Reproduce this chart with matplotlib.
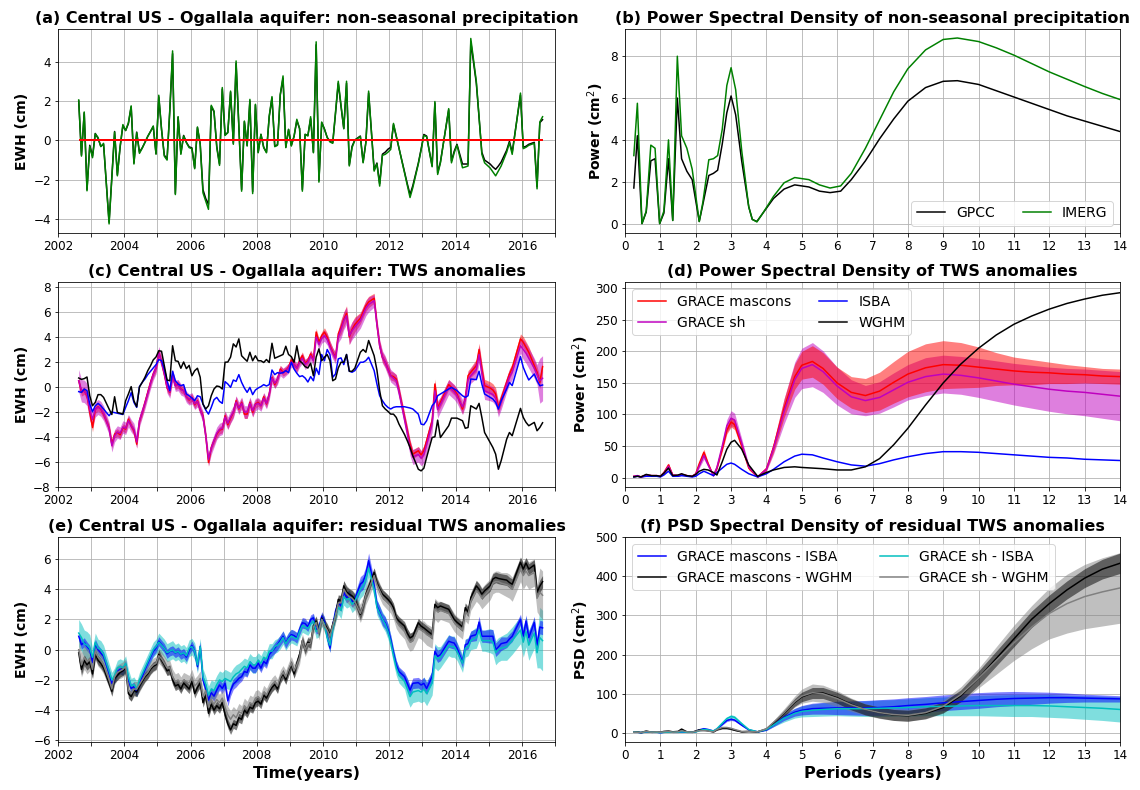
import numpy as np
import matplotlib
matplotlib.use('Agg')
import matplotlib.pyplot as plt

# ---------------- time axis (GRACE months, 0 = Jan 2002) ----------------
months = [7, 8, 9, 10, 11, 12, 13, 14, 15, 16,
          18, 19, 20, 21, 22, 23, 24, 25, 26, 27,
          28, 29, 30, 31, 32, 33, 34, 35, 36, 37,
          38, 39, 40, 41, 42, 43, 44, 45, 46, 47,
          48, 49, 50, 51, 52, 53, 54, 55, 56, 57,
          58, 59, 60, 61, 62, 63, 64, 65, 66, 67,
          68, 69, 70, 71, 72, 73, 74, 75, 76, 77,
          78, 79, 80, 81, 82, 83, 84, 85, 86, 87,
          88, 89, 90, 91, 92, 93, 94, 95, 96, 97,
          98, 99, 100, 101, 102, 103, 104, 105, 106, 107,
          109, 110, 111, 112, 114, 115, 116, 117, 118, 119,
          120, 121, 122, 123, 125, 126, 127, 128, 130, 131,
          132, 133, 135, 136, 137, 138, 141, 142, 143, 144,
          146, 147, 148, 149, 151, 152, 153, 154, 156, 157,
          158, 159, 160, 162, 163, 164, 167, 168, 169, 170,
          172, 173, 174, 175]

# ---------------- (a) non-seasonal precipitation ----------------
imerg = [2.05, -0.8, 1.44, -2.56, -0.3, -0.88, 0.33, 0.15, -0.32, -0.15,
         -4.24, -1.9, 0.42, -1.8, -0.3, 0.8, 0.5, 0.9, 1.75, -1.2,
         0.39, -0.66, -0.4, -0.1, 0.2, 0.45, 0.73, -0.7, 2.29, 0.56,
         -0.8, -1.0, 1.6, 4.54, -2.75, 1.2, -0.71, 0.22, -0.12, -0.37,
         -0.42, -1.44, 0.68, -0.2, -2.66, -3.08, -3.5, 1.78, 1.49, -0.37,
         -1.27, 2.68, 0.25, 0.39, 2.5, -0.2, 4.03, 0.73, -2.58, 0.98,
         -0.29, 2.08, -2.7, 1.83, -0.63, 0.31, -0.37, -0.63, 1.24, 2.22,
         -0.32, -0.25, 2.34, 3.27, -0.37, 0.56, -0.29, 0.22, 1.07, 0.59,
         -2.58, 0.31, 0.22, 1.2, -0.63, 5.0, -2.12, 0.93, 0.56, 0.14,
         -0.08, -0.15, 1.4, 3.0, 1.78, 0.59, 3.0, -1.3, -0.37, 0.0,
         0.19, -1.14, -0.12, 2.5, -1.56, -1.19, -2.32, -0.76, -0.71, -0.6,
         -0.46, 0.86, 0.23, -0.4, -1.65, -2.27, -2.9, -2.4, -1.2, -0.5,
         0.25, 0.19, -1.34, 1.97, -1.73, -1.14, 1.61, -1.14, -0.63, -0.24,
         -1.39, -1.35, -1.3, 5.17, 3.0, 1.2, -0.7, -1.14, -1.4, -1.6,
         -1.8, -1.55, -1.3, -0.6, -0.12, -0.71, 2.4, -0.42, -0.35, -0.25,
         -0.15, -2.46, 0.93, 1.2]
gpcc = [2.0, -0.75, 1.4, -2.5, -0.25, -0.8, 0.35, 0.1, -0.3, -0.2,
        -4.15, -1.85, 0.45, -1.75, -0.35, 0.75, 0.5, 0.85, 1.7, -1.15,
        0.42, -0.6, -0.38, -0.1, 0.2, 0.45, 0.7, -0.68, 2.2, 0.55,
        -0.75, -0.95, 1.5, 4.4, -2.7, 1.18, -0.65, 0.25, -0.1, -0.33,
        -0.38, -1.4, 0.65, -0.18, -2.5, -2.95, -3.25, 1.72, 1.45, -0.3,
        -1.2, 2.6, 0.28, 0.4, 2.45, -0.15, 3.9, 0.7, -2.5, 0.95,
        -0.25, 2.0, -2.6, 1.8, -0.6, 0.3, -0.35, -0.6, 1.2, 2.15,
        -0.3, -0.22, 2.3, 3.15, -0.35, 0.55, -0.25, 0.2, 1.0, 0.6,
        -2.5, 0.3, 0.25, 1.1, -0.6, 4.85, -2.05, 0.9, 0.58, 0.15,
        -0.05, -0.12, 1.35, 2.9, 1.72, 0.6, 2.9, -1.25, -0.3, 0.02,
        0.22, -1.1, -0.1, 2.4, -1.5, -1.15, -2.2, -0.7, -0.6, -0.45,
        -0.35, 0.8, 0.2, -0.4, -1.6, -2.2, -2.75, -2.3, -1.15, -0.45,
        0.3, 0.22, -1.3, 1.9, -1.65, -1.1, 1.55, -1.05, -0.55, -0.2,
        -1.2, -1.2, -1.2, 5.0, 2.9, 1.15, -0.6, -1.0, -1.2, -1.35,
        -1.47, -1.3, -1.1, -0.5, -0.05, -0.6, 2.3, -0.35, -0.3, -0.2,
        -0.1, -2.35, 0.9, 1.05]
precip_ref = 0.0

# ---------------- (c) TWS anomalies ----------------
tws_mascons = [0.5, -0.43, -0.29, -0.7, -2.03, -3.24, -1.76, -1.58, -1.76, -2.17,
               -3.24, -4.57, -3.77, -3.64, -3.82, -3.24, -3.37, -2.57, -3.1, -3.5,
               -4.57, -2.7, -2.03, -1.23, -0.43, 0.37, 1.04, 1.52, 2.78, 1.98,
               1.04, -0.08, -0.43, 0.99, 0.11, 0.19, -0.16, -0.29, -0.78, -1.04,
               -0.83, -1.42, -1.1, -1.84, -2.3, -3.9, -6.04, -4.84, -4.3, -3.77,
               -3.45, -3.37, -2.3, -3.02, -2.49, -2.03, -1.1, -1.76, -1.23, -2.17,
               -2.17, -1.23, -2.03, -1.36, -1.23, -1.5, -0.78, -1.36, -0.56, 0.78,
               0.19, 0.64, 1.44, 1.18, 1.31, 1.58, 2.17, 1.79, 1.52, 2.11,
               2.51, 1.9, 2.11, 2.65, 2.2, 4.4, 3.58, 4.12, 4.39, 3.98,
               3.32, 2.78, 2.38, 4.25, 4.79, 5.4, 5.9, 4.0, 4.6, 5.0,
               5.5, 6.0, 6.5, 6.8, 7.1, 5.0, 3.3, 2.38, 1.98, 1.44,
               0.91, 0.83, 0.64, -0.29, -2.43, -3.5, -4.57, -5.37, -5.1, -5.43,
               -5.1, -4.3, -2.7, 0.24, -1.63, -1.23, 0.19, -0.03, -0.24, -0.56,
               -1.76, -0.9, 0.91, 1.18, 1.71, 3.0, 1.44, 0.11, -0.08, -0.24,
               -0.56, -1.63, -0.96, 0.37, 1.04, 1.52, 3.85, 3.58, 3.18, 2.78,
               1.71, 1.18, 0.37, 1.63]
tws_sh = [0.5, -0.3, -0.35, -0.6, -1.8, -2.6, -1.8, -1.6, -1.75, -2.1,
          -3.3, -4.7, -3.9, -3.6, -3.7, -3.2, -3.3, -2.7, -3.1, -3.4,
          -4.4, -2.7, -2.0, -1.3, -0.5, 0.3, 1.0, 1.5, 2.75, 2.0,
          1.1, 0.0, -0.4, 0.9, 0.1, 0.15, -0.2, -0.3, -0.8, -1.0,
          -0.9, -1.35, -1.15, -1.8, -2.4, -3.9, -5.8, -4.9, -4.3, -3.7,
          -3.4, -3.3, -2.4, -2.9, -2.4, -2.0, -1.2, -1.7, -1.3, -2.0,
          -2.0, -1.3, -1.9, -1.4, -1.3, -1.5, -0.9, -1.3, -0.6, 0.7,
          0.3, 0.6, 1.3, 1.1, 1.3, 1.5, 2.0, 1.8, 1.5, 2.0,
          2.3, 1.8, 2.0, 2.5, 2.1, 4.0, 3.4, 3.9, 4.1, 3.8,
          3.2, 2.7, 2.3, 4.0, 4.6, 5.3, 5.7, 4.1, 4.5, 4.8,
          5.3, 5.8, 6.3, 6.6, 6.9, 5.0, 3.3, 2.4, 2.0, 1.4,
          0.9, 0.7, 0.5, -0.4, -2.6, -3.7, -4.9, -5.6, -5.4, -5.7,
          -5.4, -4.6, -2.9, -0.3, -1.8, -1.4, 0.0, -0.2, -0.4, -0.7,
          -1.6, -1.0, 0.6, 0.9, 1.4, 2.6, 1.1, -0.3, -0.5, -0.6,
          -0.9, -1.8, -1.2, 0.2, 0.8, 1.2, 3.3, 3.0, 2.7, 2.3,
          1.5, 1.0, 0.5, 0.7]
tws_isba = [-0.37, -0.43, -0.16, -0.29, -1.36, -1.98, -1.5, -1.31, -1.5, -1.76,
            -2.3, -2.0, -2.05, -2.1, -2.15, -2.2, -1.63, -1.1, -0.45, -1.23,
            -1.63, 0.03, 0.37, 0.64, 0.99, 1.26, 1.52, 1.79, 2.19, 2.11,
            1.44, 0.5, -0.29, 1.26, 0.5, 0.24, 0.1, 0.19, -0.56, -0.7,
            -0.88, -1.1, -0.7, -0.78, -1.36, -1.84, -2.17, -1.63, -1.02, -0.83,
            -1.15, -1.31, 0.43, 0.24, -0.03, 0.56, 0.45, 0.99, 0.37, -0.08,
            -0.43, -0.03, -0.61, -0.24, -0.08, 0.03, 0.19, 0.08, 0.19, 1.36,
            0.99, 1.15, 1.1, 1.15, 1.31, 1.15, 1.98, 1.44, 1.1, 0.83,
            0.9, 0.72, 0.4, 0.83, 0.5, 1.5, 1.0, 2.6, 2.1, 3.0,
            2.6, 0.78, 1.04, 2.25, 2.33, 1.79, 2.6, 1.26, 1.18, 1.31,
            1.98, 1.98, 2.11, 2.38, 1.31, 0.24, -0.7, -1.1, -1.42, -1.63,
            -1.76, -1.63, -1.58, -1.58, -1.58, -1.63, -1.68, -1.76, -2.17, -2.97,
            -3.02, -2.7, -1.5, -1.23, -0.7, -0.56, -0.16, -0.03, -0.16, -0.29,
            -0.7, -0.83, -0.7, 0.64, 0.59, 1.26, 0.24, -0.56, -0.83, -0.96,
            -1.23, -1.76, -1.1, -0.16, 0.37, 0.11, 2.43, 1.58, 1.04, 0.56,
            1.04, 0.5, 0.1, 0.16]
tws_wghm = [0.72, 0.61, 0.67, 0.8, -0.7, -1.5, -1.23, -0.61, -0.61, -0.83,
            -1.76, -2.2, -0.78, -2.03, -2.1, -2.17, -1.1, -0.56, 0.03, -1.1,
            -1.58, 0.0, 0.37, 0.78, 1.3, 1.7, 2.17, 2.4, 2.9, 2.86,
            1.7, 0.56, 0.5, 3.3, 2.1, 2.05, 1.5, 2.0, 1.47, 1.73,
            0.9, 1.3, 1.5, 0.78, -1.36, -1.76, -1.5, -0.7, -0.16, 0.08,
            0.03, -0.16, 1.98, 2.0, 2.39, 3.45, 3.2, 3.85, 2.5, 2.27,
            2.06, 2.78, 2.1, 2.5, 2.1, 2.1, 1.96, 2.2, 1.96, 3.5,
            2.3, 2.4, 2.5, 2.6, 3.26, 2.6, 2.43, 1.98, 3.3, 2.1,
            1.9, 1.63, 1.52, 1.9, 0.9, 2.4, 3.05, 2.1, 2.38, 2.6,
            2.1, 0.5, 0.64, 1.52, 1.98, 1.98, 2.6, 1.26, 1.26, 1.5,
            2.78, 3.0, 2.78, 3.72, 2.5, 1.36, -0.3, -1.5, -1.76, -1.95,
            -2.17, -2.17, -2.43, -2.97, -3.8, -4.3, -4.84, -5.5, -6.58, -6.71,
            -6.5, -5.64, -4.04, -3.98, -2.65, -4.04, -3.1, -2.49, -2.49, -2.49,
            -2.7, -3.3, -3.24, -1.5, -1.76, -1.31, -2.43, -3.64, -4.44, -4.84,
            -5.37, -6.58, -5.9, -4.17, -3.64, -3.9, -1.71, -2.43, -2.83, -3.1,
            -2.83, -3.5, -3.24, -2.86]
# uncertainty (1 sigma) per half-year, 2002a ... 2016b
sig_c_mascons = [0.3, 0.3, 0.35, 0.3, 0.3, 0.3, 0.3, 0.3, 0.3, 0.3, 0.35, 0.35, 0.3, 0.3, 0.3,
                 0.3, 0.35, 0.6, 0.45, 0.4, 0.35, 0.35, 0.4, 0.4, 0.4, 0.5, 0.5, 0.4, 0.45, 0.5]
sig_c_sh = [0.6, 0.9, 0.6, 0.5, 0.5, 0.45, 0.5, 0.45, 0.45, 0.5, 0.5, 0.5, 0.45, 0.4, 0.4,
            0.4, 0.45, 0.7, 0.6, 0.5, 0.5, 0.6, 0.7, 0.6, 0.6, 0.7, 0.6, 0.6, 0.8, 1.8]

# ---------------- (e) residual TWS anomalies ----------------
res_m_isba = [0.89, 0.33, 0.49, 0.22, 0.0, -0.84, 0.4, 0.0, -0.22, -0.44,
              -1.56, -2.22, -1.89, -1.44, -1.29, -1.38, -1.0, -2.0, -2.56, -2.44,
              -2.78, -2.22, -1.78, -1.33, -0.89, -0.49, -0.11, 0.11, 0.56, 0.33,
              0.11, -0.27, -0.11, -0.04, -0.22, -0.11, -0.33, -0.22, -0.49, -0.04,
              0.27, -0.11, -1.11, 0.22, -2.0, -2.56, -3.33, -2.84, -3.07, -2.67,
              -2.33, -2.56, -2.22, -3.38, -2.71, -2.27, -2.11, -1.89, -1.78, -1.44,
              -1.51, -1.0, -1.22, -1.22, -0.89, -1.22, -0.78, -0.93, -0.33, -0.11,
              0.11, 0.33, 0.62, 0.89, 0.44, 0.78, 1.0, 0.93, 0.78, 1.33,
              1.78, 1.73, 1.51, 2.0, 2.11, 1.33, 1.44, 2.22, 1.89, 0.89,
              0.11, 1.6, 2.56, 3.11, 2.89, 3.8, 3.44, 3.6, 3.16, 3.33,
              4.33, 4.49, 5.0, 5.89, 4.22, 2.89, 2.49, 2.0, 1.78, 1.33,
              0.67, -0.22, -1.0, -1.44, -1.78, -2.22, -2.67, -2.22, -2.18, -2.33,
              -2.22, -2.56, -1.78, -0.11, -0.44, -0.33, 0.56, 0.49, 0.44, 0.11,
              -0.84, 0.33, 0.4, 0.89, 1.0, 1.82, 0.89, 0.89, 0.89, 0.89,
              0.0, 0.18, 0.4, 0.49, 0.71, 0.89, 2.0, 0.9, 1.9, 0.8,
              1.8, 0.3, 1.5, 1.44]
res_m_wghm = [-0.2, -1.3, -0.7, -1.0, -0.8, -1.6, -0.3, -0.7, -0.9, -1.2,
              -2.2, -2.75, -1.9, -1.7, -1.5, -1.4, -1.2, -2.9, -3.1, -2.7,
              -2.8, -2.4, -2.1, -1.8, -1.6, -1.3, -1.1, -1.0, -0.3, -0.7,
              -1.0, -1.4, -1.3, -2.0, -2.4, -2.3, -2.6, -2.2, -2.4, -2.6,
              -2.1, -2.9, -2.5, -2.2, -3.5, -3.0, -4.2, -3.6, -4.0, -3.7,
              -3.9, -3.5, -4.3, -4.9, -5.3, -4.9, -5.0, -4.5, -4.6, -4.0,
              -4.2, -3.8, -3.9, -3.5, -3.4, -3.6, -3.0, -3.2, -2.8, -2.5,
              -2.3, -2.6, -1.9, -1.6, -2.0, -1.4, -1.0, -1.6, -0.9, -0.3,
              0.6, 0.0, 0.5, 0.4, 1.6, 1.9, 1.2, 2.1, 1.7, 1.4,
              1.0, 1.67, 2.27, 3.33, 3.22, 4.22, 3.82, 3.67, 3.56, 3.33,
              2.33, 2.89, 3.67, 4.11, 5.11, 4.44, 4.0, 3.67, 3.51, 3.33,
              3.11, 2.78, 2.11, 1.89, 1.56, 1.1, 0.78, 0.89, 1.78, 1.56,
              1.44, 1.29, 1.0, 3.0, 2.78, 2.89, 2.67, 2.33, 2.0, 1.82,
              1.51, 2.78, 2.49, 3.44, 4.22, 4.0, 3.67, 3.89, 4.22, 4.67,
              4.78, 4.71, 4.67, 4.6, 4.44, 4.33, 5.78, 5.33, 5.73, 5.33,
              5.6, 3.8, 4.2, 4.5]
res_s_isba = [1.1, 0.8, 0.4, 0.3, 0.1, -0.5, 0.5, 0.1, 0.0, -0.3,
              -1.4, -2.0, -1.7, -1.2, -1.1, -1.2, -0.9, -1.8, -2.4, -2.3,
              -2.6, -2.0, -1.6, -1.2, -0.8, -0.4, 0.0, 0.2, 0.5, 0.3,
              0.1, -0.2, -0.1, 0.0, -0.2, -0.1, -0.3, -0.2, -0.4, 0.1,
              0.2, -0.1, -1.0, 0.2, -1.8, -2.3, -3.0, -2.6, -2.7, -2.3,
              -2.0, -2.1, -1.9, -2.0, -2.1, -1.8, -1.6, -1.5, -1.3, -1.1,
              -1.2, -0.8, -1.0, -1.0, -0.7, -0.9, -0.5, -0.6, -0.1, -0.1,
              0.2, 0.3, 0.5, 0.8, 0.4, 0.7, 0.9, 0.8, 0.7, 1.2,
              1.6, 1.5, 1.4, 1.7, 1.9, 1.2, 1.3, 2.0, 1.7, 0.8,
              0.3, 1.4, 2.3, 2.8, 2.6, 3.5, 3.3, 3.4, 3.0, 3.2,
              4.0, 4.2, 4.7, 5.4, 4.0, 2.8, 2.4, 2.0, 1.7, 1.2,
              0.5, -0.4, -1.2, -1.7, -2.1, -2.6, -3.1, -2.8, -2.7, -2.8,
              -2.6, -2.9, -2.2, -0.4, -0.6, -0.5, 0.3, 0.2, 0.2, -0.1,
              -0.9, 0.1, 0.2, 0.6, 0.8, 1.3, 0.6, 0.6, 0.6, 0.5,
              -0.2, 0.0, 0.1, 0.2, 0.4, 0.6, 1.3, 0.5, 1.2, 0.3,
              1.1, -0.2, 0.8, 0.6]
res_s_wghm = [0.0, -1.0, -0.5, -0.8, -0.6, -1.3, -0.1, -0.5, -0.7, -1.0,
              -2.0, -2.6, -1.8, -1.5, -1.4, -1.3, -1.1, -2.7, -2.9, -2.6,
              -2.6, -2.3, -2.0, -1.7, -1.5, -1.2, -1.0, -0.9, -0.4, -0.6,
              -0.9, -1.2, -1.2, -1.8, -2.1, -2.0, -2.3, -2.0, -2.1, -2.2,
              -1.8, -2.4, -2.2, -1.9, -3.1, -2.7, -3.8, -3.3, -3.6, -3.3,
              -3.5, -3.2, -3.8, -4.3, -4.6, -4.3, -4.5, -4.1, -4.2, -3.7,
              -3.9, -3.5, -3.6, -3.2, -3.1, -3.3, -2.8, -3.0, -2.6, -2.3,
              -2.1, -2.4, -1.8, -1.5, -1.8, -1.3, -0.9, -1.4, -1.0, -0.5,
              0.6, 0.0, 0.4, 0.4, 1.5, 1.8, 1.1, 2.0, 1.6, 1.3,
              0.9, 1.6, 2.2, 3.1, 3.1, 4.0, 3.7, 3.5, 3.4, 3.2,
              2.4, 2.9, 3.6, 4.0, 4.9, 4.3, 3.9, 3.5, 3.3, 3.1,
              2.9, 2.5, 1.9, 1.6, 1.2, 0.8, 0.5, 0.6, 1.4, 1.3,
              1.2, 1.0, 0.8, 2.7, 2.5, 2.6, 2.4, 2.1, 1.8, 1.6,
              1.3, 2.5, 2.3, 3.2, 3.9, 3.7, 3.4, 3.6, 4.0, 4.4,
              4.5, 4.5, 4.4, 4.3, 4.2, 4.0, 5.3, 4.9, 5.2, 4.9,
              5.1, 3.4, 3.8, 3.6]
sig_e_m_isba = [0.3, 0.3, 0.3, 0.3, 0.3, 0.3, 0.3, 0.3, 0.3, 0.35, 0.35, 0.3, 0.3, 0.35, 0.35,
                0.3, 0.3, 0.35, 0.5, 0.4, 0.3, 0.35, 0.4, 0.4, 0.35, 0.4, 0.45, 0.35, 0.4, 0.45]
sig_e_m_wghm = [0.3, 0.35, 0.3, 0.3, 0.3, 0.3, 0.3, 0.3, 0.3, 0.3, 0.3, 0.3, 0.3, 0.3, 0.3,
                0.3, 0.3, 0.35, 0.35, 0.3, 0.3, 0.3, 0.3, 0.3, 0.3, 0.35, 0.35, 0.35, 0.35, 0.4]
sig_e_s_isba = [0.7, 0.9, 0.6, 0.5, 0.5, 0.5, 0.6, 0.55, 0.55, 0.6, 0.6, 0.55, 0.5, 0.45, 0.45,
                0.45, 0.45, 0.55, 0.6, 0.5, 0.5, 0.7, 0.8, 0.7, 0.6, 0.7, 0.8, 0.9, 1.0, 2.0]
sig_e_s_wghm = [0.6, 0.8, 0.6, 0.5, 0.5, 0.45, 0.5, 0.5, 0.5, 0.55, 0.55, 0.5, 0.45, 0.45, 0.45,
                0.45, 0.45, 0.55, 0.6, 0.5, 0.5, 0.6, 0.7, 0.6, 0.6, 0.7, 0.7, 0.8, 0.9, 1.6]

# ---------------- (b) PSD of precipitation ----------------
period_b = [0.25, 0.35, 0.48, 0.6, 0.73, 0.85, 0.98, 1.1, 1.23, 1.35,
            1.48, 1.6, 1.75, 1.9, 2.1, 2.2, 2.37, 2.5, 2.62, 2.75,
            2.88, 3.0, 3.13, 3.3, 3.5, 3.6, 3.73, 3.9, 4.2, 4.5,
            4.8, 5.2, 5.5, 5.8, 6.1, 6.4, 6.8, 7.2, 7.6, 8.0,
            8.5, 9.0, 9.4, 10.0, 10.5, 11.0, 11.5, 12.0, 12.5, 13.0,
            13.5, 14.0]
psd_gpcc = [1.7, 4.2, 0.0, 0.55, 3.0, 3.1, 0.0, 0.5, 3.1, 0.15,
            6.0, 3.1, 2.5, 2.1, 0.1, 0.9, 2.3, 2.4, 2.55, 3.8,
            5.3, 6.1, 5.2, 3.0, 0.8, 0.2, 0.1, 0.5, 1.2, 1.65,
            1.85, 1.75, 1.55, 1.48, 1.55, 2.1, 3.0, 4.05, 5.0, 5.85,
            6.5, 6.8, 6.83, 6.65, 6.35, 6.05, 5.75, 5.45, 5.15, 4.9,
            4.65, 4.4]
psd_imerg = [3.25, 5.75, 0.0, 0.6, 3.75, 3.6, 0.0, 0.6, 4.0, 0.15,
             8.0, 4.2, 3.6, 2.6, 0.1, 1.0, 3.05, 3.1, 3.25, 4.5,
             6.6, 7.45, 6.4, 3.5, 0.8, 0.2, 0.08, 0.5, 1.3, 1.95,
             2.2, 2.1, 1.85, 1.7, 1.8, 2.4, 3.6, 4.95, 6.3, 7.4,
             8.3, 8.8, 8.87, 8.7, 8.4, 8.05, 7.65, 7.25, 6.9, 6.55,
             6.22, 5.93]

# ---------------- (d), (f) PSD of TWS ----------------
period = [0.25, 0.35, 0.45, 0.6, 0.75, 0.9, 1.0, 1.1, 1.23, 1.35,
          1.5, 1.6, 1.75, 1.9, 2.0, 2.1, 2.23, 2.35, 2.5, 2.6,
          2.75, 2.88, 3.0, 3.1, 3.3, 3.5, 3.75, 4.0, 4.2, 4.5,
          4.8, 5.0, 5.3, 5.6, 6.0, 6.4, 6.8, 7.2, 7.6, 8.0,
          8.5, 9.0, 9.5, 10.0, 10.5, 11.0, 11.5, 12.0, 12.5, 13.0,
          13.5, 14.0]
psd_mascons = [2, 3, 1, 4, 3, 3, 2, 8, 20, 4,
               3, 5, 3, 2, 6, 22, 40, 22, 3, 15,
               45, 75, 88, 84, 50, 15, 1, 14, 48, 110,
               160, 178, 184, 173, 150, 135, 130, 137, 151, 164,
               174, 179, 178, 175, 172, 169, 167, 166, 164, 163,
               161, 160]
psd_mascons_sig = [1, 1, 1, 1, 1, 1, 1, 2, 3, 1,
                   1, 1, 1, 1, 1, 3, 5, 3, 1, 2,
                   4, 6, 8, 8, 5, 3, 1, 3, 8, 15,
                   20, 22, 25, 25, 25, 25, 27, 30, 33, 36,
                   38, 38, 36, 32, 26, 22, 20, 17, 15, 13,
                   12, 12]
psd_sh = [2, 3, 1, 4, 3, 3, 2, 7, 18, 4,
          3, 5, 3, 2, 5, 18, 35, 20, 3, 16,
          50, 82, 94, 91, 55, 17, 1, 13, 46, 105,
          155, 173, 179, 168, 145, 128, 122, 127, 139, 151,
          160, 164, 162, 158, 153, 148, 144, 140, 137, 135,
          132, 129]
psd_sh_sig = [1, 1, 1, 1, 1, 1, 1, 2, 4, 1,
              1, 1, 1, 1, 1, 3, 6, 3, 1, 3,
              6, 10, 12, 11, 7, 3, 1, 3, 9, 20,
              28, 32, 35, 33, 30, 27, 24, 25, 27, 28,
              30, 30, 30, 31, 32, 33, 34, 35, 36, 37,
              38, 39]
psd_isba = [1, 2, 1, 2, 2, 2, 1, 4, 10, 2,
            2, 3, 2, 1, 2, 6, 10, 7, 3, 8,
            15, 21, 23, 21, 13, 6, 1, 6, 13, 25,
            34, 37, 36, 31, 25, 20, 18, 22, 28, 33,
            38, 41, 41, 40, 38, 36, 34, 32, 31, 29,
            28, 27]
psd_wghm = [1, 2, 1, 5, 3, 3, 2, 7, 15, 3,
            4, 6, 3, 2, 5, 10, 13, 12, 8, 4,
            25, 45, 56, 59, 45, 20, 2, 8, 12, 16,
            17, 16, 15, 14, 12, 12, 17, 30, 52, 78,
            115, 150, 180, 205, 226, 243, 256, 267, 276, 283,
            289, 293]

psd_r_m_isba = [2, 2, 1, 3, 2, 2, 1, 2, 3, 2,
                2, 3, 2, 2, 4, 8, 11, 9, 5, 10,
                22, 32, 35, 33, 20, 8, 3, 8, 20, 40,
                53, 58, 62, 63, 64, 64, 64, 65, 67, 70,
                73, 77, 80, 83, 86, 88, 89, 90, 90, 89,
                88, 87]
psd_r_m_isba_sig = [1, 1, 1, 1, 1, 1, 1, 1, 1, 1,
                    1, 1, 1, 1, 1, 1, 2, 1, 1, 1,
                    2, 3, 3, 3, 2, 1, 1, 2, 4, 8,
                    10, 12, 14, 15, 17, 18, 19, 20, 20, 20,
                    20, 20, 20, 20, 19, 18, 16, 14, 12, 10,
                    9, 8]
psd_r_m_wghm = [2, 3, 1, 5, 2, 3, 2, 4, 5, 3,
                4, 10, 3, 2, 5, 8, 8, 6, 3, 8,
                12, 12, 10, 7, 3, 4, 3, 10, 25, 50,
                78, 92, 102, 102, 90, 73, 60, 52, 46, 44,
                50, 65, 95, 140, 190, 240, 290, 330, 365, 395,
                418, 433]
psd_r_m_wghm_sig = [1, 1, 1, 1, 1, 1, 1, 1, 1, 1,
                    1, 1, 1, 1, 1, 1, 1, 1, 1, 1,
                    2, 2, 2, 1, 1, 1, 1, 2, 4, 8,
                    10, 12, 14, 14, 14, 14, 14, 14, 14, 14,
                    14, 14, 15, 18, 19, 20, 21, 22, 23, 24,
                    25, 26]
psd_r_s_isba = [2, 2, 1, 3, 2, 2, 1, 2, 2, 2,
                2, 3, 2, 2, 3, 6, 9, 8, 5, 11,
                25, 37, 42, 40, 24, 9, 3, 9, 20, 38,
                50, 55, 58, 60, 62, 62, 62, 63, 64, 65,
                67, 68, 69, 70, 70, 70, 70, 69, 67, 65,
                63, 60]
psd_r_s_isba_sig = [1, 1, 1, 1, 1, 1, 1, 1, 1, 1,
                    1, 1, 1, 1, 1, 1, 2, 1, 1, 2,
                    3, 4, 5, 4, 3, 1, 1, 2, 4, 10,
                    12, 14, 16, 17, 18, 19, 20, 21, 21, 22,
                    23, 24, 25, 26, 27, 28, 28, 29, 29, 30,
                    31, 32]
psd_r_s_wghm = [2, 2, 1, 4, 2, 3, 2, 3, 4, 2,
                3, 6, 3, 2, 4, 6, 6, 5, 3, 9,
                14, 14, 12, 9, 4, 4, 3, 11, 27, 52,
                80, 94, 103, 100, 88, 72, 60, 52, 47, 45,
                52, 68, 98, 140, 185, 230, 270, 305, 330, 348,
                360, 370]
psd_r_s_wghm_sig = [1, 1, 1, 1, 1, 1, 1, 1, 1, 1,
                    1, 1, 1, 1, 1, 1, 1, 1, 1, 1,
                    2, 2, 2, 2, 1, 1, 1, 2, 5, 10,
                    14, 18, 22, 22, 20, 17, 15, 15, 15, 15,
                    15, 15, 20, 25, 35, 45, 55, 65, 75, 82,
                    87, 90]

year_ticks = list(range(2002, 2018))

# ======================================================================
m_arr = np.array(months, dtype=float)
t = 2002 + (m_arr + 0.5) / 12.0
half = ((m_arr + 0.5) // 6).astype(int)


def band(sig):
    return np.array(sig)[half]


fig = plt.figure(figsize=(1140 / 72, 790 / 72), dpi=72)
W, H = 1140.0, 790.0


def axes_px(x0, x1, y0, y1):
    return fig.add_axes([x0 / W, 1 - y1 / H, (x1 - x0) / W, (y1 - y0) / H])


LX0, LX1 = 58, 555
RX0, RX1 = 625, 1120
rows = [(29, 233), (282, 487), (537, 742)]

ax_a = axes_px(LX0, LX1, *rows[0])
ax_b = axes_px(RX0, RX1, *rows[0])
ax_c = axes_px(LX0, LX1, *rows[1])
ax_d = axes_px(RX0, RX1, *rows[1])
ax_e = axes_px(LX0, LX1, *rows[2])
ax_f = axes_px(RX0, RX1, *rows[2])

TFS = 16    # titles
LFS = 14    # y labels
XFS = 16    # x labels
KFS = 12    # tick labels
GFS = 14    # legends


def style_time(ax):
    ax.set_xlim(2002, 2017)
    ax.set_xticks(year_ticks)
    ax.set_xticklabels([str(y) if y % 2 == 0 else '' for y in year_ticks])
    ax.grid(True, color='#b0b0b0', linewidth=0.8)
    ax.set_axisbelow(True)
    ax.tick_params(labelsize=KFS)
    ax.set_ylabel('EWH (cm)', fontsize=LFS, fontweight='bold')


def style_psd(ax):
    ax.set_xlim(0, 14)
    ax.set_xticks(range(0, 15))
    ax.grid(True, color='#b0b0b0', linewidth=0.8)
    ax.set_axisbelow(True)
    ax.tick_params(labelsize=KFS)


# (a)
ax_a.plot(t, gpcc, color='black', lw=1.5)
ax_a.plot(t, imerg, color='green', lw=1.5)
ax_a.hlines(precip_ref, t[0], t[-1], color='red', lw=2)
style_time(ax_a)
ax_a.set_ylim(-4.7, 5.65)
ax_a.set_yticks([-4, -2, 0, 2, 4])
ax_a.set_title('(a) Central US - Ogallala aquifer: non-seasonal precipitation',
               fontsize=TFS, fontweight='bold')

# (b)
ax_b.plot(period_b, psd_gpcc, color='black', lw=1.5, label='GPCC')
ax_b.plot(period_b, psd_imerg, color='green', lw=1.5, label='IMERG')
style_psd(ax_b)
ax_b.set_ylim(-0.45, 9.3)
ax_b.set_yticks([0, 2, 4, 6, 8])
ax_b.set_ylabel(r'Power (cm$^2$)', fontsize=LFS, fontweight='bold')
ax_b.legend(loc='lower right', ncol=2, fontsize=GFS)
ax_b.set_title('(b) Power Spectral Density of non-seasonal precipitation',
               fontsize=TFS, fontweight='bold')

# (c)
ms = np.array(tws_mascons)
sh = np.array(tws_sh)
ax_c.fill_between(t, ms - band(sig_c_mascons), ms + band(sig_c_mascons),
                  color='red', alpha=0.5, lw=0)
ax_c.fill_between(t, sh - band(sig_c_sh), sh + band(sig_c_sh),
                  color='m', alpha=0.5, lw=0)
ax_c.plot(t, ms, color='red', lw=1.5)
ax_c.plot(t, sh, color='m', lw=1.5)
ax_c.plot(t, tws_isba, color='blue', lw=1.5)
ax_c.plot(t, tws_wghm, color='black', lw=1.5)
style_time(ax_c)
ax_c.set_ylim(-8, 8.4)
ax_c.set_yticks(range(-8, 9, 2))
ax_c.set_title('(c) Central US - Ogallala aquifer: TWS anomalies',
               fontsize=TFS, fontweight='bold')

# (d)
pm = np.array(psd_mascons)
ps = np.array(psd_sh)
ax_d.fill_between(period, ps - np.array(psd_sh_sig), ps + np.array(psd_sh_sig),
                  color='m', alpha=0.5, lw=0)
ax_d.fill_between(period, pm - np.array(psd_mascons_sig), pm + np.array(psd_mascons_sig),
                  color='red', alpha=0.5, lw=0)
ax_d.plot(period, pm, color='red', lw=1.5, label='GRACE mascons')
ax_d.plot(period, ps, color='m', lw=1.5, label='GRACE sh')
ax_d.plot(period, psd_isba, color='blue', lw=1.5, label='ISBA')
ax_d.plot(period, psd_wghm, color='black', lw=1.5, label='WGHM')
style_psd(ax_d)
ax_d.set_ylim(-15, 310)
ax_d.set_yticks(range(0, 301, 50))
ax_d.set_ylabel(r'Power (cm$^2$)', fontsize=LFS, fontweight='bold')
ax_d.legend(loc='upper left', ncol=2, fontsize=GFS)
ax_d.set_title('(d) Power Spectral Density of TWS anomalies',
               fontsize=TFS, fontweight='bold')

# (e)
series_e = [(res_s_isba, sig_e_s_isba, 'c'),
            (res_m_isba, sig_e_m_isba, 'blue'),
            (res_s_wghm, sig_e_s_wghm, 'gray'),
            (res_m_wghm, sig_e_m_wghm, 'black')]
for vals, sig, col in series_e:
    v = np.array(vals)
    ax_e.fill_between(t, v - band(sig), v + band(sig), color=col, alpha=0.5, lw=0)
ax_e.plot(t, res_m_isba, color='blue', lw=1.5)
ax_e.plot(t, res_m_wghm, color='black', lw=1.5)
ax_e.plot(t, res_s_isba, color='c', lw=1.5)
ax_e.plot(t, res_s_wghm, color='gray', lw=1.5)
style_time(ax_e)
ax_e.set_ylim(-6.1, 7.45)
ax_e.set_yticks(range(-6, 7, 2))
ax_e.set_xlabel('Time(years)', fontsize=XFS, fontweight='bold')
ax_e.set_title('(e) Central US - Ogallala aquifer: residual TWS anomalies',
               fontsize=TFS, fontweight='bold')

# (f)
series_f = [(psd_r_s_isba, psd_r_s_isba_sig, 'c'),
            (psd_r_m_isba, psd_r_m_isba_sig, 'blue'),
            (psd_r_s_wghm, psd_r_s_wghm_sig, 'gray'),
            (psd_r_m_wghm, psd_r_m_wghm_sig, 'black')]
for vals, sig, col in series_f:
    v = np.array(vals)
    s = np.array(sig)
    ax_f.fill_between(period, v - s, v + s, color=col, alpha=0.5, lw=0)
ax_f.plot(period, psd_r_m_isba, color='blue', lw=1.5, label='GRACE mascons - ISBA')
ax_f.plot(period, psd_r_m_wghm, color='black', lw=1.5, label='GRACE mascons - WGHM')
ax_f.plot(period, psd_r_s_isba, color='c', lw=1.5, label='GRACE sh - ISBA')
ax_f.plot(period, psd_r_s_wghm, color='gray', lw=1.5, label='GRACE sh - WGHM')
style_psd(ax_f)
ax_f.set_ylim(-23, 500)
ax_f.set_yticks(range(0, 501, 100))
ax_f.set_ylabel(r'PSD (cm$^2$)', fontsize=LFS, fontweight='bold')
ax_f.set_xlabel('Periods (years)', fontsize=XFS, fontweight='bold')
ax_f.legend(loc='upper left', ncol=2, fontsize=GFS)
ax_f.set_title('(f) PSD Spectral Density of residual TWS anomalies',
               fontsize=TFS, fontweight='bold')

fig.savefig('out.png', dpi=72)
